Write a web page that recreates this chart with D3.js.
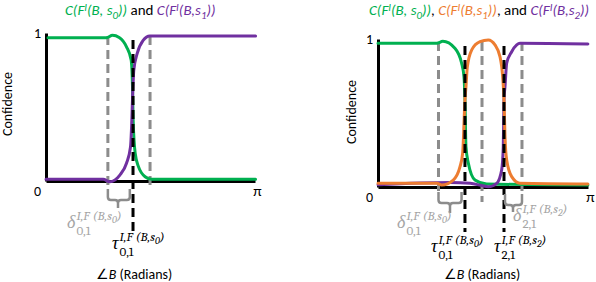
<!DOCTYPE html>
<html>
<head>
<meta charset="utf-8">
<script src="https://cdn.jsdelivr.net/npm/d3@7"></script>
<style>
  html, body { margin: 0; padding: 0; background: #fff; }
  svg { display: block; }
</style>
</head>
<body>
<svg id="chart" width="596" height="282"></svg>
<script>
// angle (radians) vs confidence
var leftGreen = [[0.03,0.968],[0.91,0.968],[1.00,0.985],[1.10,0.97],[1.21,0.907],[1.28,0.818],[1.30,0.642],[1.31,0.412],[1.34,0.189],[1.39,0.097],[1.49,0.029],[1.59,0.011],[3.15,0.011]];
var leftPurple = [[0.0,0.011],[0.86,0.011],[0.96,-0.005],[1.11,0.04],[1.21,0.12],[1.27,0.23],[1.29,0.41],[1.30,0.55],[1.32,0.75],[1.37,0.86],[1.46,0.95],[1.56,0.98],[3.15,0.98]];

var rightGreen = [[0.0,0.971],[0.88,0.971],[0.97,0.984],[1.15,0.937],[1.25,0.838],[1.286,0.745],[1.301,0.588],[1.316,0.272],[1.351,0.162],[1.451,0.047],[1.626,0.02],[3.14,0.0135]];
var rightOrange = [[0.0,0.025],[0.88,0.025],[0.953,0.0135],[1.126,0.047],[1.227,0.137],[1.267,0.23],[1.301,0.588],[1.316,0.678],[1.336,0.81],[1.402,0.926],[1.526,0.982],[1.65,0.993],[1.75,0.96],[1.825,0.88],[1.865,0.745],[1.885,0.588],[1.90,0.34],[1.925,0.182],[2.0,0.07],[2.124,0.025],[3.14,0.02]];
var rightPurple = [[0.0,0.015],[1.08,0.03],[1.38,0.025],[1.55,0.01],[1.65,0.002],[1.776,0.025],[1.85,0.115],[1.874,0.27],[1.885,0.588],[1.90,0.678],[1.925,0.836],[2.0,0.914],[2.075,0.96],[2.124,0.971],[3.14,0.966]];

// thresholds (tau, black) and the bounds around them (gray)
var leftTau = [1.308];
var leftGray = [0.93, 1.564];
var rightTau = [1.301, 1.885];
var rightGray = [0.905, 1.556, 2.154];

var yTickValues = [0, 1];
var xTickLabels = ["π"];

var GREEN = "#00b050", PURPLE = "#7030a0", ORANGE = "#ed7d31";
var DASHGRAY = "#8c8c8c", LIGHTGRAY = "#a6a6a6";
var SANS = "Carlito, Calibri, Lato, 'Open Sans', sans-serif";
var MATH = "'Cambria Math', Cambria, 'Liberation Serif', 'DejaVu Serif', serif";

var svg = d3.select("#chart");

// text with inline sub/superscripts
var richText = function(g, x, y, parts, size, family) {
    var t = g.append("text").attr("x", x).attr("y", y)
        .style("font-family", family).style("font-size", size + "px");
    var shift = 0;
    parts.forEach(function(p) {
        var target = p.s === "sup" ? -size * 0.3 : p.s === "sub" ? size * 0.25 : 0;
        t.append("tspan").text(p.t)
            .attr("dy", target - shift)
            .attr("fill", p.c || "#000")
            .style("font-style", p.i ? "italic" : "normal")
            .style("font-size", (p.s ? size * 0.72 : size) + "px");
        shift = target;
    });
    return t;
};

var mathLabel = function(g, x, y, main, supSub, sub, color) {
    var m = g.append("text").attr("x", x).attr("y", y).attr("fill", color)
        .style("font-family", MATH).style("font-style", "italic").style("font-size", "18px")
        .text(main);
    var w = m.node().getComputedTextLength();
    var s = g.append("text").attr("x", x + w + 1).attr("y", y - 8).attr("fill", color)
        .style("font-family", MATH).style("font-style", "italic").style("font-size", "13px");
    s.append("tspan").text("I,F (B,s");
    s.append("tspan").text(supSub).attr("dy", 3).style("font-size", "10px");
    s.append("tspan").text(")").attr("dy", -3);
    g.append("text").attr("x", x + w + 1).attr("y", y + 7).attr("fill", color)
        .style("font-family", MATH).style("font-size", "13px")
        .text(sub);
};

var brace = function(g, xa, xb, yTop, yBot, stemX, stemBot) {
    var p = d3.path();
    p.moveTo(xa, yTop); p.lineTo(xa, yBot - 3);
    p.quadraticCurveTo(xa, yBot, xa + 3, yBot);
    p.lineTo(stemX - 3, yBot);
    p.quadraticCurveTo(stemX, yBot, stemX, yBot + 3);
    p.lineTo(stemX, stemBot);
    p.moveTo(stemX, yBot + 3);
    p.quadraticCurveTo(stemX, yBot, stemX + 3, yBot);
    p.lineTo(xb - 3, yBot);
    p.quadraticCurveTo(xb, yBot, xb, yBot - 3);
    p.lineTo(xb, yTop);
    g.append("path").attr("d", p.toString()).attr("fill", "none")
        .attr("stroke", DASHGRAY).attr("stroke-width", 2.5);
};

var drawPanel = function(cfg) {
    var g = svg.append("g");
    var x = d3.scaleLinear().domain([0, Math.PI]).range([cfg.left, cfg.right]);
    var y = d3.scaleLinear().domain([0, 1]).range([cfg.bottom, cfg.top]);

    // axes
    var yAxis = g.append("g").attr("transform", "translate(" + cfg.left + ",0)")
        .call(d3.axisLeft(y).tickValues(yTickValues).tickSize(0).tickPadding(5).tickFormat(d3.format("d")));
    yAxis.selectAll("text").style("font-family", SANS).style("font-size", "14px").attr("fill", "#000")
        .attr("dy", function(d) { return d === 0 ? "1.05em" : "0.35em"; });
    var xAxis = g.append("g").attr("transform", "translate(0," + cfg.bottom + ")")
        .call(d3.axisBottom(x).tickValues([Math.PI]).tickSize(0).tickPadding(4).tickFormat(function(d, i) { return xTickLabels[i]; }));
    xAxis.selectAll("text").style("font-family", SANS).style("font-size", "15px").attr("fill", "#000").attr("dx", "2");
    [yAxis, xAxis].forEach(function(a) {
        a.select(".domain").attr("stroke", "#000").attr("stroke-width", 3);
    });

    // gray bounds
    g.selectAll(".gray").data(cfg.gray).enter().append("line")
        .attr("x1", function(d) { return x(d); }).attr("x2", function(d) { return x(d); })
        .attr("y1", cfg.top + 3).attr("y2", function(d, i) { return cfg.grayEnd[i]; })
        .attr("stroke", DASHGRAY).attr("stroke-width", 3).attr("stroke-dasharray", "9,5");

    // curves
    var line = d3.line().x(function(d) { return x(d[0]); }).y(function(d) { return y(d[1]); })
        .curve(d3.curveMonotoneX);
    cfg.series.forEach(function(s) {
        g.append("path").datum(s.values).attr("d", line).attr("fill", "none")
            .attr("stroke", s.color).attr("stroke-width", 3).attr("stroke-linecap", "round");
    });

    // tau thresholds
    g.selectAll(".tau").data(cfg.tau).enter().append("line")
        .attr("x1", function(d) { return x(d); }).attr("x2", function(d) { return x(d); })
        .attr("y1", cfg.top + 7).attr("y2", cfg.tauEnd)
        .attr("stroke", "#000").attr("stroke-width", 3).attr("stroke-dasharray", "9,5");

    // braces + labels
    cfg.braces.forEach(function(b) {
        brace(g, x(b.from), x(b.to), b.yTop, b.yBot, b.stem, b.stemBot);
    });
    cfg.labels.forEach(function(l) {
        mathLabel(g, l.x, l.y, l.main, l.supSub, l.sub, l.color);
    });

    // axis titles
    g.append("text").attr("transform", "translate(" + cfg.yTitleX + "," + cfg.yTitleY + ") rotate(-90)")
        .attr("text-anchor", "middle").style("font-family", SANS).style("font-size", "14px")
        .text("Confidence");
    var xt = g.append("text").attr("x", cfg.xTitleX).attr("y", 279).attr("text-anchor", "middle")
        .style("font-family", SANS).style("font-size", "14px");
    xt.append("tspan").text("∠");
    xt.append("tspan").text("B").style("font-style", "italic");
    xt.append("tspan").text(" (Radians)");

    richText(g, cfg.titleX, 15, cfg.title, 15, SANS);
};

var sPart = function(c, n) {
    return [
        {t: "C(F", c: c, i: 1}, {t: "I", c: c, i: 1, s: "sup"},
        {t: n === "0" ? "(B, s" : "(B,s", c: c, i: 1}, {t: n, c: c, i: 1, s: "sub"},
        {t: "))", c: c, i: 1}
    ];
};

drawPanel({
    left: 46, right: 255, top: 33, bottom: 181,
    gray: leftGray, grayEnd: [190, 190],
    tau: leftTau, tauEnd: 236,
    series: [{values: leftGreen, color: GREEN}, {values: leftPurple, color: PURPLE}],
    braces: [{from: leftGray[0], to: 1.26, yTop: 189, yBot: 200, stem: 118, stemBot: 208}],
    labels: [
        {x: 67, y: 228, main: "δ", supSub: "0", sub: "0,1", color: LIGHTGRAY},
        {x: 112, y: 249, main: "τ", supSub: "0", sub: "0,1", color: "#000"}
    ],
    yTitleX: 12, yTitleY: 104, xTitleX: 134, titleX: 65,
    title: sPart(GREEN, "0").concat([{t: " and ", c: "#000"}]).concat(sPart(PURPLE, "1"))
});

drawPanel({
    left: 378, right: 588, top: 39, bottom: 187,
    gray: rightGray, grayEnd: [192, 202, 192],
    tau: rightTau, tauEnd: 232,
    series: [{values: rightGreen, color: GREEN}, {values: rightPurple, color: PURPLE}, {values: rightOrange, color: ORANGE}],
    braces: [
        {from: rightGray[0], to: 1.25, yTop: 192, yBot: 203, stem: 450, stemBot: 213},
        {from: 1.90, to: rightGray[2], yTop: 194, yBot: 205, stem: 513, stemBot: 212}
    ],
    labels: [
        {x: 397, y: 228, main: "δ", supSub: "0", sub: "0,1", color: LIGHTGRAY},
        {x: 431, y: 252, main: "τ", supSub: "0", sub: "0,1", color: "#000"},
        {x: 494, y: 252, main: "τ", supSub: "2", sub: "2,1", color: "#000"},
        {x: 513, y: 221, main: "δ", supSub: "2", sub: "2,1", color: LIGHTGRAY}
    ],
    yTitleX: 356, yTitleY: 112, xTitleX: 482, titleX: 369,
    title: sPart(GREEN, "0").concat([{t: ", ", c: "#000"}]).concat(sPart(ORANGE, "1"))
        .concat([{t: ", and ", c: "#000"}]).concat(sPart(PURPLE, "2"))
});
</script>
</body>
</html>
